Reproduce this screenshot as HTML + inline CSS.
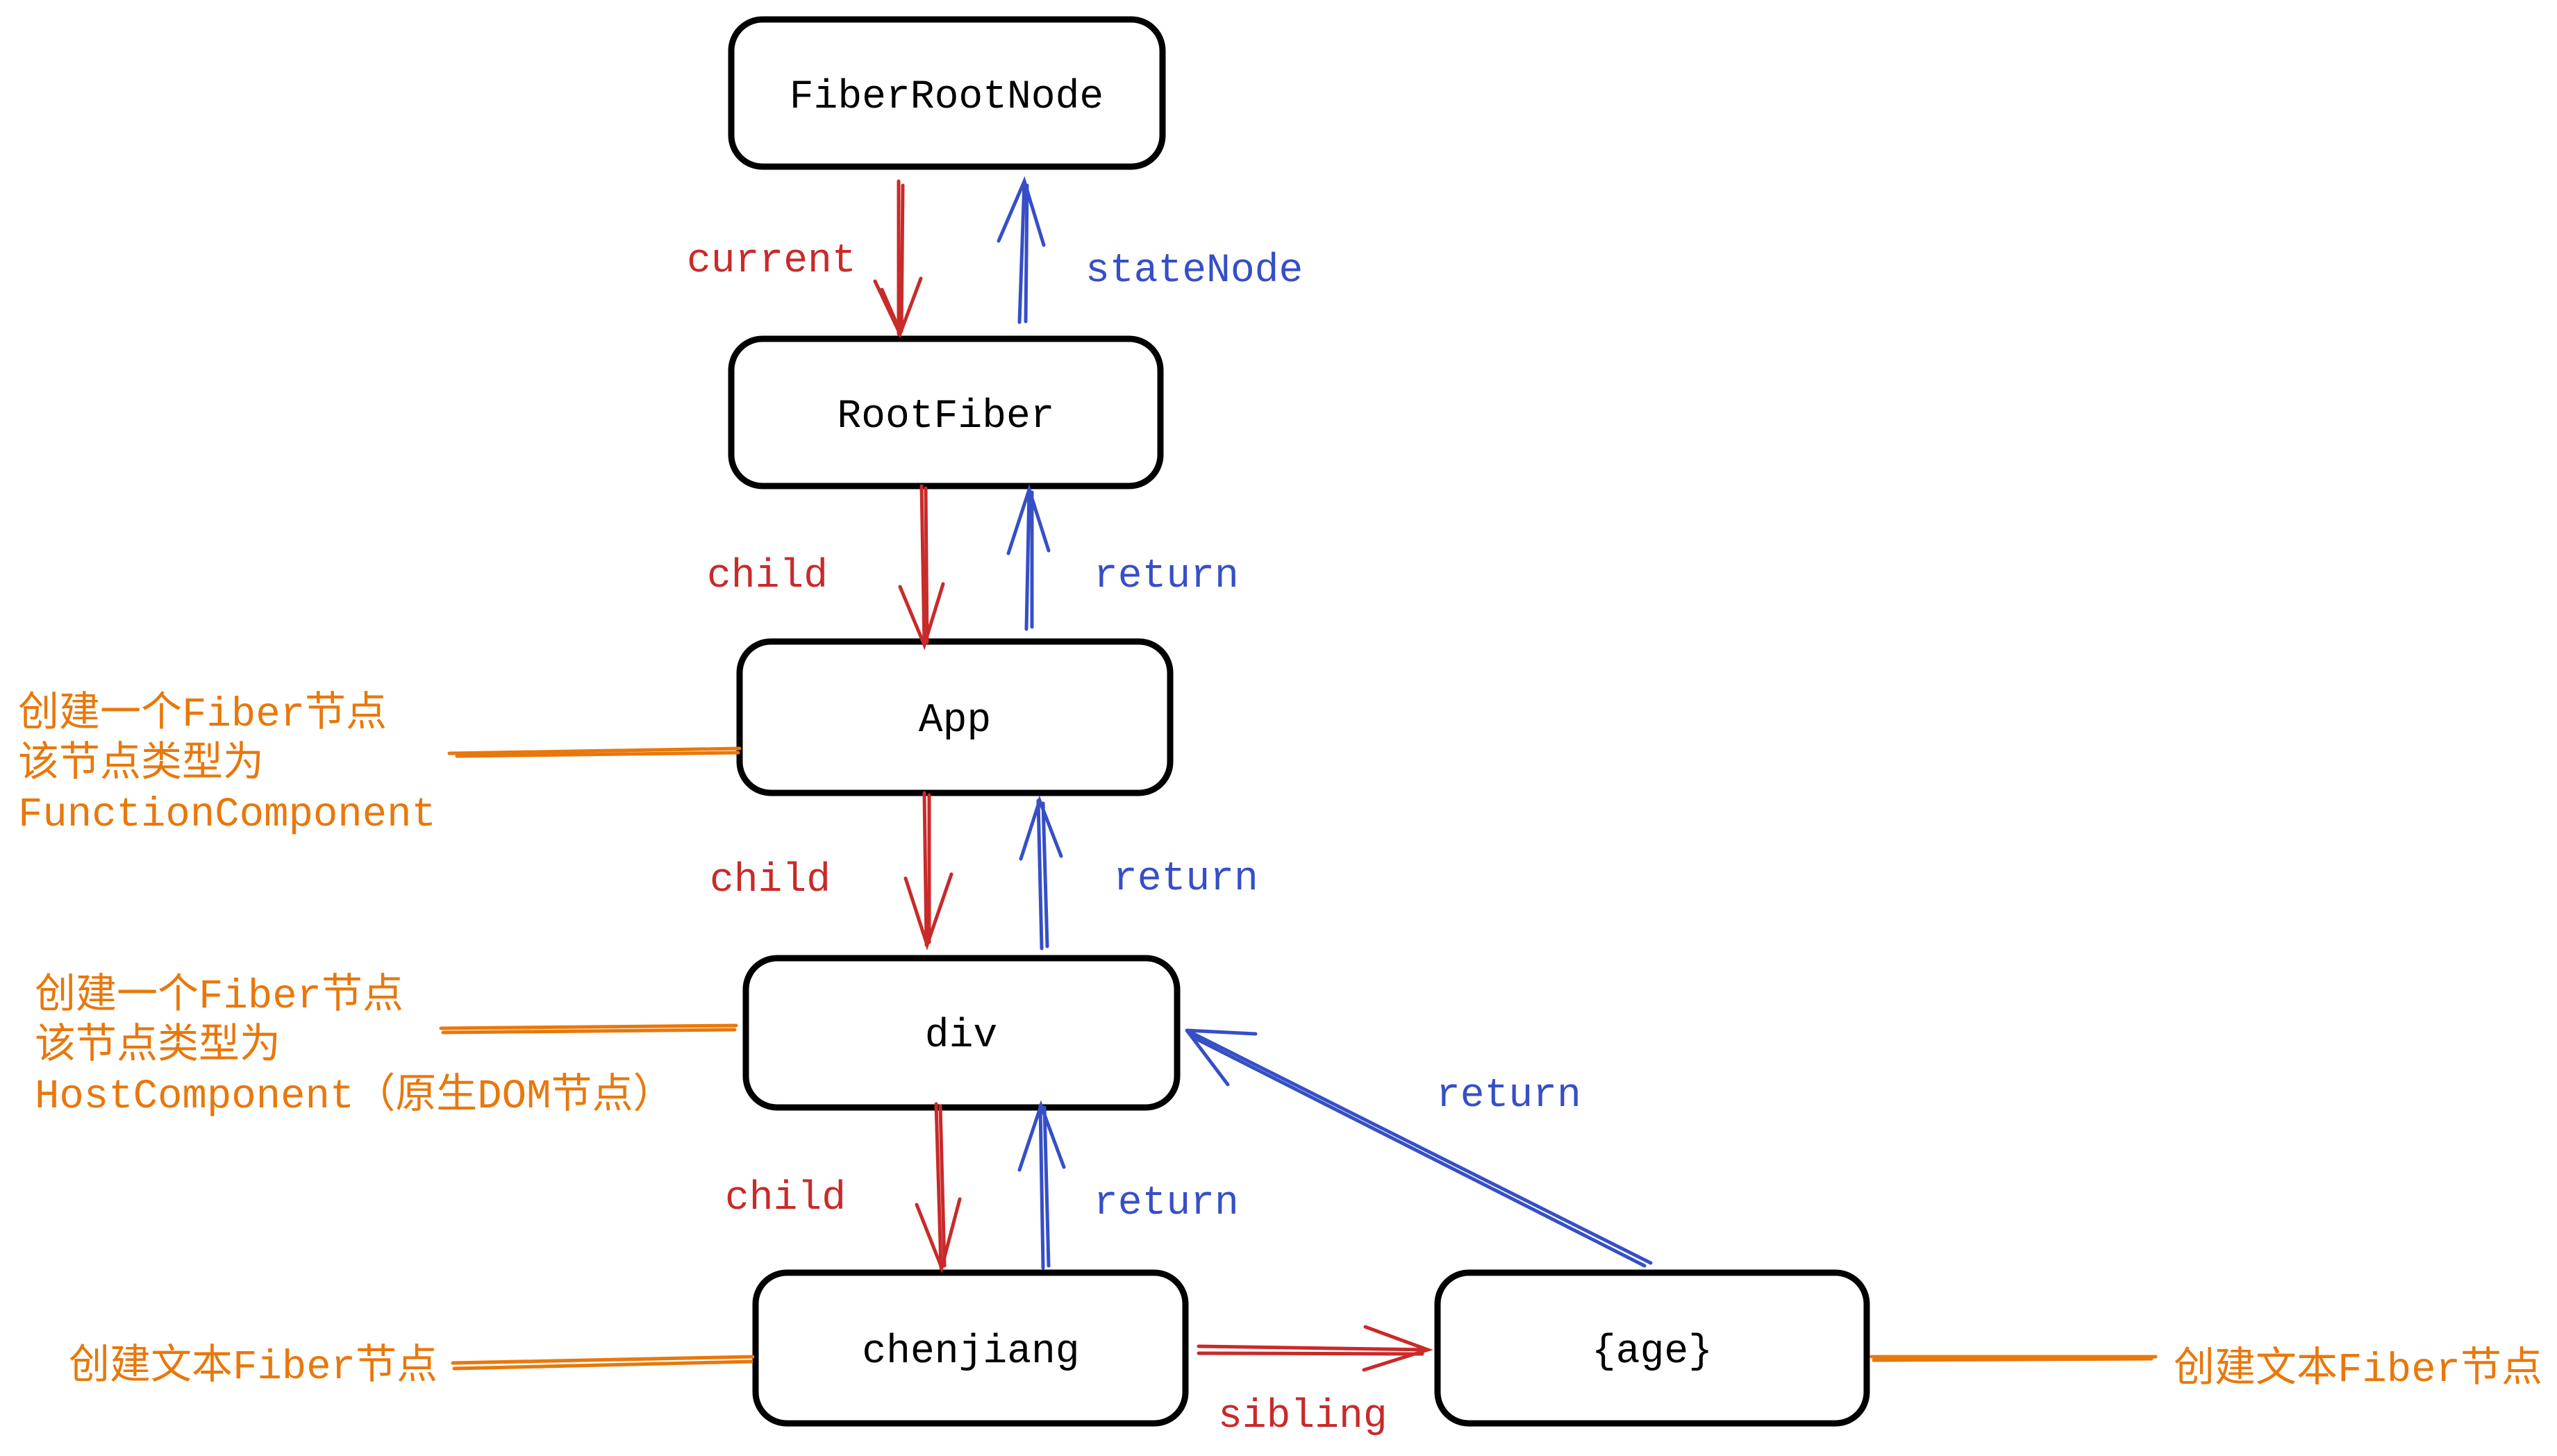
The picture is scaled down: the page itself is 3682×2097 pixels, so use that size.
<!DOCTYPE html>
<html><head><meta charset="utf-8"><style>
html,body{margin:0;padding:0;background:#fff;}
svg{display:block;}
text{font-family:"Liberation Mono","Noto Sans CJK SC",monospace;font-size:58px;}
.o text{font-size:59px;}
</style></head><body>
<svg width="3682" height="2097" viewBox="0 0 3682 2097" xmlns="http://www.w3.org/2000/svg">
<g transform="translate(-2,-3)">
<g fill="none" stroke="#000" stroke-width="9" stroke-linejoin="round">
<rect x="1055" y="31" width="621" height="212" rx="45"/>
<rect x="1055" y="491" width="618" height="212" rx="45"/>
<rect x="1067" y="927" width="620" height="218" rx="45"/>
<rect x="1076" y="1383" width="621" height="215" rx="45"/>
<rect x="1090" y="1836" width="619" height="217" rx="45"/>
<rect x="2072" y="1836" width="618" height="217" rx="45"/>
</g>
<g text-anchor="middle" fill="#000">
<text x="1365" y="158">FiberRootNode</text>
<text x="1364" y="618">RootFiber</text>
<text x="1377" y="1056">App</text>
<text x="1386" y="1510">div</text>
<text x="1400" y="1965">chenjiang</text>
<text x="2381" y="1965">{age}</text>
</g>
<g fill="none" stroke-width="5" stroke-linecap="round">
<g stroke="#c92a2a">
<path d="M1296 264 L1296 484 M1302 270 L1300 480 M1262 408 L1298 484 L1328 404 M1272 420 L1298 480"/>
<path d="M1329 703 L1333 932 M1335 706 L1337 928 M1298 848 L1333 932 L1360 844"/>
<path d="M1333 1145 L1336 1364 M1340 1148 L1340 1360 M1306 1268 L1337 1364 L1372 1262"/>
<path d="M1350 1593 L1357 1829 M1356 1596 L1362 1826 M1322 1738 L1358 1829 L1384 1730"/>
<path d="M1728 1942 L2058 1947 M1728 1952 L2050 1953 M1968 1914 L2058 1947 L1966 1976"/>
</g>
<g stroke="#364fc7">
<path d="M1470 467 L1477 264 M1479 466 L1481 270 M1440 350 L1477 264 L1505 356"/>
<path d="M1480 909 L1484 708 M1488 906 L1488 712 M1454 800 L1484 708 L1512 796"/>
<path d="M1502 1369 L1497 1156 M1510 1366 L1504 1160 M1472 1240 L1499 1156 L1530 1236"/>
<path d="M1504 1829 L1500 1595 M1512 1826 L1506 1598 M1470 1688 L1501 1595 L1534 1684"/>
<path d="M2379 1822 L1711 1487 M2370 1826 L1718 1496 M1711 1487 L1810 1492 M1711 1487 L1770 1565"/>
</g>
<g stroke="#e8780c">
<path d="M649 1088 L1067 1081 M660 1092 L1065 1087"/>
<path d="M637 1484 L1062 1480 M640 1490 L1060 1486"/>
<path d="M654 1966 L1086 1957 M656 1974 L1084 1964"/>
<path d="M2697 1957 L3106 1957 M2700 1962 L3100 1960"/>
</g>
</g>
<g fill="#c92a2a">
<text x="991" y="394">current</text>
<text x="1020" y="848">child</text>
<text x="1024" y="1286">child</text>
<text x="1046" y="1744">child</text>
<text x="1756" y="2058">sibling</text>
</g>
<g fill="#364fc7">
<text x="1565" y="408">stateNode</text>
<text x="1577" y="848">return</text>
<text x="1605" y="1284">return</text>
<text x="2070" y="1596">return</text>
<text x="1577" y="1751">return</text>
</g>
<g fill="#e8780c" class="o">
<text x="28" y="1048">创建一个Fiber节点</text>
<text x="28" y="1120">该节点类型为</text>
<text x="28" y="1192">FunctionComponent</text>
<text x="52" y="1454">创建一个Fiber节点</text>
<text x="52" y="1526">该节点类型为</text>
<text x="52" y="1598">HostComponent（原生DOM节点）</text>
<text x="101" y="1988">创建文本Fiber节点</text>
<text x="3132" y="1992">创建文本Fiber节点</text>
</g>
</g>
</svg>
</body></html>
